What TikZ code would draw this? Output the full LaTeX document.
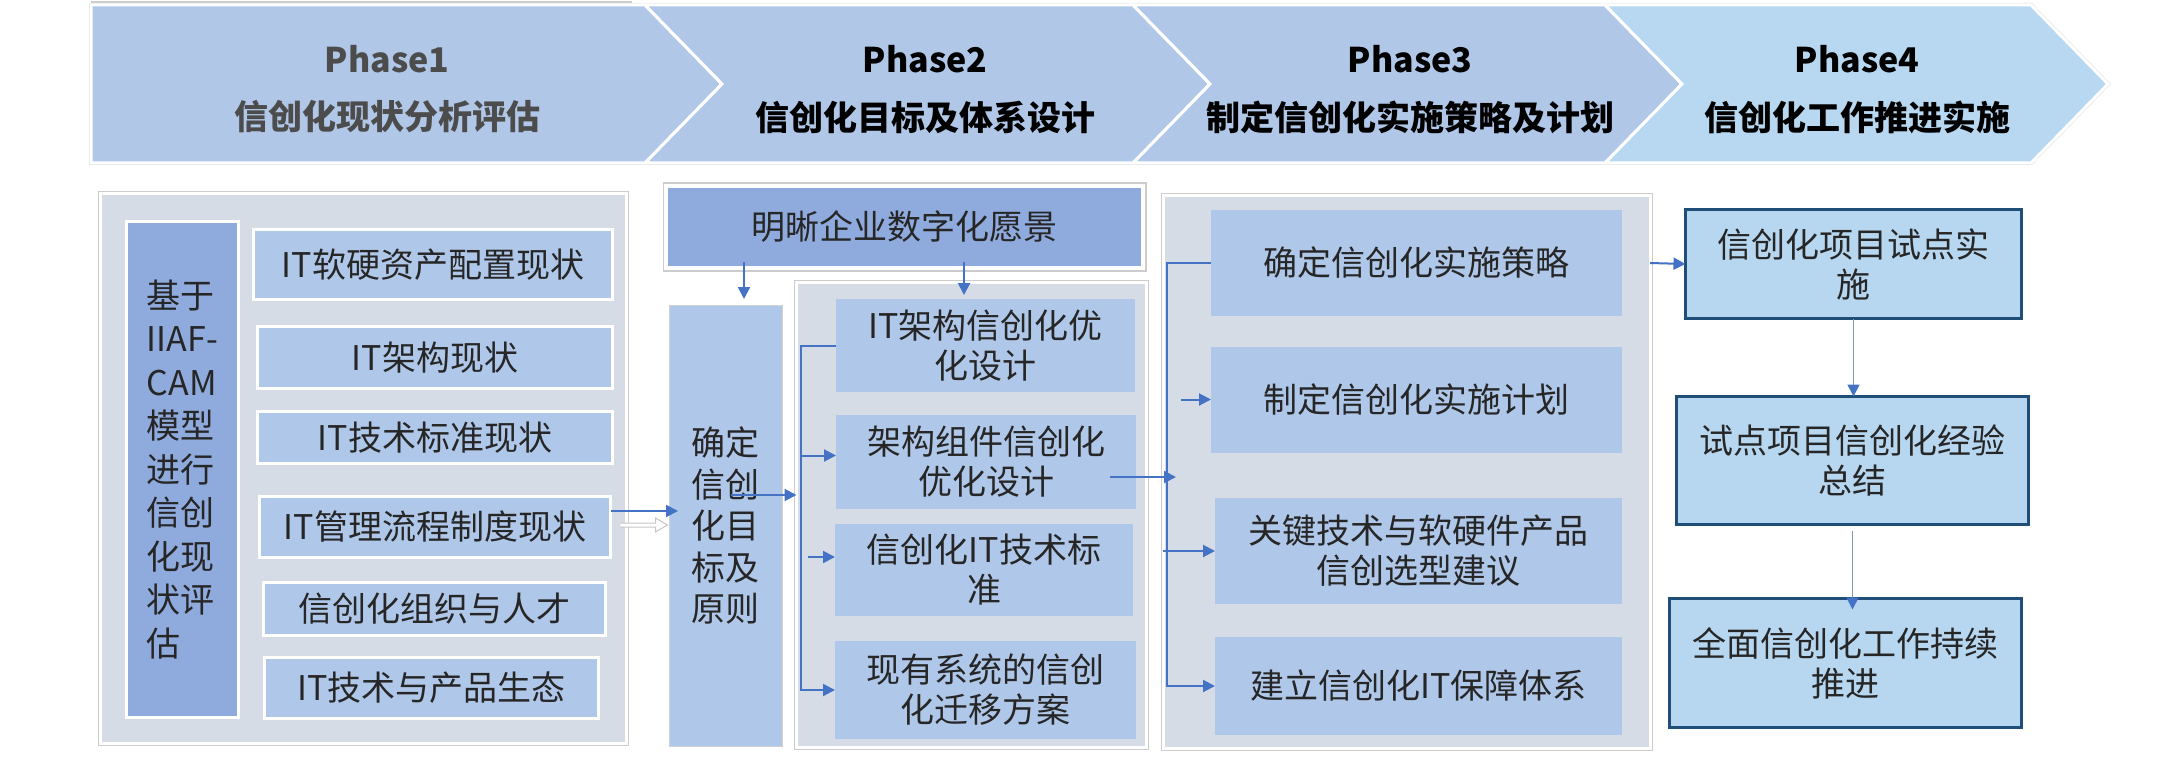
\documentclass[tikz,border=0pt]{standalone}
\usepackage{fontspec}
\setmainfont{Noto Sans CJK SC}
\usetikzlibrary{arrows.meta}
\definecolor{hdrblue}{RGB}{176,199,232}
\definecolor{hdrsky}{RGB}{183,216,240}
\definecolor{panelgrey}{RGB}{214,220,229}
\definecolor{itemblue}{RGB}{175,199,233}
\definecolor{deepblue}{RGB}{143,170,220}
\definecolor{pilotblue}{RGB}{183,214,239}
\definecolor{pilotedge}{RGB}{31,78,121}
\definecolor{linkblue}{RGB}{68,114,196}
\definecolor{flowgrey}{RGB}{132,151,176}

\begin{document}
\begin{tikzpicture}[x=1pt, y=-1pt,
    every node/.style={font=\fontsize{34}{40}\selectfont, text=black!85,
      inner sep=0pt, outer sep=0pt, align=center},
    head/.style={font=\fontsize{34}{40}\selectfont\bfseries, text=black},
    panel/.style={fill=panelgrey, draw=white, line width=3pt,
      preaction={draw=gray!40, line width=5pt}},
    vis/.style={fill=deepblue, draw=white, line width=4pt,
      preaction={draw=gray!40, line width=7pt}},
    cur/.style={fill=itemblue, draw=white, line width=3pt},
    item/.style={fill=itemblue},
    pilot/.style={fill=pilotblue, draw=pilotedge, line width=3pt},
    link/.style={draw=linkblue, line width=2pt, -{Triangle[length=12pt, width=12pt]}},
    flow/.style={draw=flowgrey, line width=1.5pt,
      -{Triangle[length=12pt, width=12pt, color=linkblue]}},
    hollow/.style={draw=gray!45, line width=1pt, fill=white},
    chevron/.style={fill=#1, draw=white, line width=3pt}]
    \useasboundingbox (0,0) rectangle (2184,778);
    % header
    \draw [gray!40, line width=2pt] (91,2) -- (632,2);
    \draw [gray!25, line width=4pt] (91,5) -- (2031,5) -- (2108,84) -- (2031,163) -- (91,163) -- cycle;
    \draw [chevron=hdrblue] (91,5) -- (645,5) -- (722,84) -- (645,163) -- (91,163) -- cycle;
    \draw [chevron=hdrblue] (645,5) -- (1133,5) -- (1210,84) -- (1133,163) -- (645,163) -- (722,84) -- cycle;
    \draw [chevron=hdrblue] (1133,5) -- (1605,5) -- (1682,84) -- (1605,163) -- (1133,163) -- (1210,84) -- cycle;
    \draw [chevron=hdrsky] (1605,5) -- (2031,5) -- (2108,84) -- (2031,163) -- (1605,163) -- (1682,84) -- cycle;
    \node [head, text=black!70] (ph1) at (387,59) {Phase1};
    \node [head, text=black!70] (st1) at (387,117) {信创化现状分析评估};
    \node [head] (ph2) at (925,59) {Phase2};
    \node [head] (st2) at (925,117) {信创化目标及体系设计};
    \node [head] (ph3) at (1410,59) {Phase3};
    \node [head] (st3) at (1410,117) {制定信创化实施策略及计划};
    \node [head] (ph4) at (1857,59) {Phase4};
    \node [head] (st4) at (1857,117) {信创化工作推进实施};
    % Phase1
    \node [panel, minimum width=526pt, minimum height=549pt] (p1) at (363,468.5) {};
    \node [cur, fill=deepblue, align=left, font=\fontsize{34}{43.5}\selectfont,
      minimum width=112pt, minimum height=496pt] (base) at (182.5,469.5)
      {基于\\IIAF-\\CAM\\模型\\进行\\信创\\化现\\状评\\估};
    \node [cur, minimum width=359pt, minimum height=69.5pt] (c1) at (433,264.25) {IT软硬资产配置现状};
    \node [cur, minimum width=355pt, minimum height=62pt] (c2) at (435,357.5) {IT架构现状};
    \node [cur, minimum width=355pt, minimum height=52pt] (c3) at (435,437.5) {IT技术标准现状};
    \node [cur, minimum width=351pt, minimum height=61pt] (c4) at (435,527) {IT管理流程制度现状};
    \node [cur, minimum width=342pt, minimum height=52.5pt] (c5) at (434.5,609) {信创化组织与人才};
    \node [cur, minimum width=334pt, minimum height=60.5pt] (c6) at (431.5,688) {IT技术与产品生态};
    % Phase2
    \node [vis, minimum width=477pt, minimum height=82pt] (vis) at (904.5,227) {明晰企业数字化愿景};
    \node [item, draw=gray!35, line width=1pt, font=\fontsize{34}{41.5}\selectfont,
      minimum width=113pt, minimum height=441pt] (goal) at (725.5,525.5)
      {确定\\信创\\化目\\标及\\原则};
    \node [panel, minimum width=350pt, minimum height=465pt] (p2) at (971.5,514.5) {};
    \node [item, minimum width=299pt, minimum height=93pt] (d1) at (985.5,345.5) {IT架构信创化优\\化设计};
    \node [item, minimum width=300pt, minimum height=94pt] (d2) at (986,462) {架构组件信创化\\优化设计};
    \node [item, minimum width=298pt, minimum height=92pt] (d3) at (984,570) {信创化IT技术标\\准};
    \node [item, minimum width=301pt, minimum height=98pt] (d4) at (985.5,690) {现有系统的信创\\化迁移方案};
    % Phase3
    \node [panel, minimum width=487pt, minimum height=552pt] (p3) at (1406.5,472) {};
    \node [item, minimum width=411pt, minimum height=106pt] (e1) at (1416.5,263) {确定信创化实施策略};
    \node [item, minimum width=411pt, minimum height=106pt] (e2) at (1416.5,399.5) {制定信创化实施计划};
    \node [item, minimum width=407pt, minimum height=106pt] (e3) at (1418.5,551) {关键技术与软硬件产品\\信创选型建议};
    \node [item, minimum width=407pt, minimum height=98pt] (e4) at (1418.5,686) {建立信创化IT保障体系};
    % Phase4
    \node [pilot, minimum width=336pt, minimum height=109pt] (f1) at (1853.5,264) {信创化项目试点实\\施};
    \node [pilot, minimum width=352pt, minimum height=128pt] (f2) at (1852.5,460.5) {试点项目信创化经验\\总结};
    \node [pilot, minimum width=352pt, minimum height=129pt] (f3) at (1845.5,663) {全面信创化工作持续\\推进};
    % links
    \coordinate (c4o) at ([yshift=16pt]c4.east);
    \draw [link, shorten >=-9pt] (c4o) -- (c4o -| goal.west);
    \coordinate (h0) at ([xshift=10pt, yshift=4pt]c4.east);
    \draw [hollow] (h0) -- ++(35,0) -- ++(0,-5) -- ++(12,7) -- ++(-12,7) -- ++(0,-5) -- ++(-35,0);
    \coordinate (v1) at (744,262);
    \coordinate (v2) at (964,262);
    \draw [link, shorten >=6pt] (v1) -- (v1 |- goal.north);
    \draw [link, shorten >=4pt] (v2) -- (v2 |- d1.north);
    \coordinate (g1) at (731,495);
    \draw [link] (g1) -- (g1 -| p2.west);
    \coordinate (br2) at (801,0);
    \draw [link] (d1.west) -- (d1.west -| br2) -- (d4.west -| br2) -- (d4.west);
    \coordinate (d2i) at ([yshift=6.5pt]d2.west);
    \draw [link] (d2i -| br2) -- (d2i);
    \coordinate (d3i) at ([yshift=13pt]d3.west);
    \draw [link] ([xshift=-27pt]d3i) -- (d3i);
    \coordinate (br3) at (1167,0);
    \coordinate (d2o) at ([xshift=-26pt, yshift=-15pt]d2.east);
    \draw [link, shorten >=-9pt] (d2o) -- (d2o -| br3);
    \draw [link] (e1.west) -- (e1.west -| br3) -- (e4.west -| br3) -- (e4.west);
    \draw [link] ([xshift=-30pt]e2.west) -- (e2.west);
    \draw [link] (e3.west -| p3.west) -- (e3.west);
    \draw [link] (e1.east -| p3.east) -- (f1.west);
    \draw [flow] (f1.south) -- (f1.south |- f2.north);
    \draw [flow, shorten >=-11pt] ([yshift=-6pt]f2.south) -- (f2.south |- f3.north);
\end{tikzpicture}
\end{document}
